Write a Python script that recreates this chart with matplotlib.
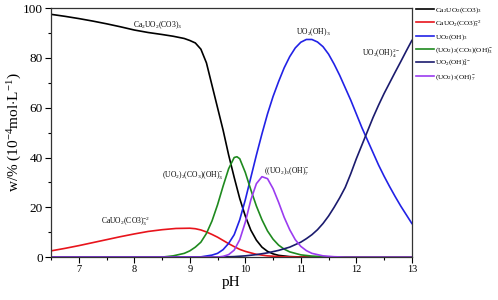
import numpy as np
import matplotlib
matplotlib.use("Agg")
import matplotlib.pyplot as plt
from matplotlib.ticker import MultipleLocator

plt.rcParams['font.family'] = ['Liberation Serif', 'DejaVu Serif']
plt.rcParams['mathtext.fontset'] = 'custom'
plt.rcParams['mathtext.rm'] = 'Liberation Serif'
plt.rcParams['mathtext.it'] = 'Liberation Serif:italic'
plt.rcParams['mathtext.bf'] = 'Liberation Serif:bold'

# Data: pH vs share (%)
ph_ca2 = [6.5, 6.75, 7.0, 7.25, 7.5, 7.75, 8.0, 8.25, 8.5, 8.7, 8.9, 9.0, 9.1, 9.2, 9.3,
          9.4, 9.5, 9.6, 9.7, 9.8, 9.9, 10.0, 10.1, 10.2, 10.3, 10.4, 10.5, 10.6, 10.8,
          11.0, 11.5, 13.0]
w_ca2 = [97.5, 96.7, 95.8, 94.8, 93.7, 92.5, 91.2, 90.2, 89.4, 88.7, 87.8, 87.0, 86.0, 83.5,
         78.0, 69.0, 60.0, 51.0, 41.0, 32.0, 23.5, 16.5, 10.8, 6.8, 4.0, 2.3, 1.3, 0.7, 0.2,
         0.05, 0.0, 0.0]

ph_ca1 = [6.5, 6.75, 7.0, 7.25, 7.5, 7.75, 8.0, 8.25, 8.5, 8.75, 9.0, 9.1, 9.2, 9.3, 9.4,
          9.5, 9.6, 9.7, 9.8, 9.9, 10.0, 10.2, 10.4, 10.6, 10.8, 11.0, 13.0]
w_ca1 = [2.5, 3.5, 4.6, 5.8, 7.0, 8.2, 9.3, 10.3, 11.0, 11.5, 11.6, 11.4, 10.9, 10.1, 9.1,
         8.0, 6.7, 5.4, 4.2, 3.1, 2.3, 1.1, 0.5, 0.2, 0.05, 0.0, 0.0]

ph_oh3 = [6.5, 9.2, 9.4, 9.5, 9.6, 9.7, 9.8, 9.9, 10.0, 10.1, 10.2, 10.3, 10.4, 10.5, 10.6,
          10.7, 10.8, 10.9, 11.0, 11.1, 11.2, 11.3, 11.4, 11.5, 11.6, 11.7, 11.8, 11.9,
          12.0, 12.1, 12.2, 12.3, 12.4, 12.5, 12.6, 12.7, 12.8, 12.9, 13.0]
w_oh3 = [0.0, 0.1, 0.8, 1.5, 3.0, 5.5, 9.0, 15.0, 23.0, 32.0, 41.0, 49.5, 57.5, 64.5, 70.5,
         76.0, 80.5, 84.0, 86.3, 87.4, 87.4, 86.4, 84.5, 81.5, 77.5, 73.0, 68.0, 63.0,
         57.5, 52.0, 47.0, 42.0, 37.0, 32.5, 28.3, 24.3, 20.5, 17.0, 13.5]

ph_co3 = [6.5, 8.5, 8.7, 8.9, 9.0, 9.1, 9.2, 9.3, 9.4, 9.5, 9.6, 9.7, 9.8, 9.85, 9.9, 10.0,
          10.1, 10.2, 10.3, 10.4, 10.5, 10.6, 10.7, 10.8, 11.0, 11.2, 11.5, 11.8, 13.0]
w_co3 = [0.0, 0.0, 0.5, 1.5, 2.5, 4.0, 6.0, 9.5, 14.5, 21.0, 28.5, 35.5, 40.0, 40.3, 39.5,
         34.0, 27.0, 20.5, 15.0, 10.5, 7.2, 4.8, 3.2, 2.1, 0.9, 0.4, 0.1, 0.0, 0.0]

ph_oh4 = [6.5, 9.5, 9.8, 10.0, 10.2, 10.4, 10.6, 10.8, 11.0, 11.1, 11.2, 11.3, 11.4, 11.5,
          11.6, 11.7, 11.8, 11.9, 12.0, 12.1, 12.2, 12.3, 12.4, 12.5, 12.6, 12.7, 12.8,
          12.9, 13.0]
w_oh4 = [0.0, 0.0, 0.2, 0.5, 1.0, 1.7, 2.7, 4.0, 6.0, 7.4, 9.0, 11.0, 13.5, 16.5, 20.0,
         23.8, 28.0, 33.5, 39.5, 45.0, 50.5, 56.0, 61.0, 65.7, 70.0, 74.3, 78.5, 82.8,
         87.0]

ph_oh7 = [6.5, 9.5, 9.6, 9.7, 9.8, 9.9, 10.0, 10.1, 10.2, 10.3, 10.4, 10.5, 10.6, 10.7,
          10.8, 10.9, 11.0, 11.1, 11.2, 11.4, 11.6, 11.8, 13.0]
w_oh7 = [0.0, 0.0, 0.3, 1.0, 2.8, 7.0, 14.0, 23.0, 29.5, 32.3, 31.5, 27.5, 22.0, 16.0,
         11.0, 7.0, 4.3, 2.6, 1.5, 0.5, 0.15, 0.0, 0.0]

legend_labels = [r"Ca$_2$UO$_2$(CO3)$_3$", r"CaUO$_2$(CO3)$_3^{-2}$", r"UO$_2$(OH)$_3$",
                 r"(UO$_2$)$_2$(CO$_3$)(OH)$_3^{-}$", r"UO$_2$(OH)$_4^{2-}$",
                 r"(UO$_2$)$_3$(OH)$_7^{-}$"]
colors = ["#000000", "#e8141c", "#2222e6", "#1f8a1f", "#1b1b6e", "#9b3cf0"]

series = [(ph_ca2, w_ca2), (ph_ca1, w_ca1), (ph_oh3, w_oh3),
          (ph_co3, w_co3), (ph_oh4, w_oh4), (ph_oh7, w_oh7)]

fig = plt.figure(figsize=(4.98, 3.0), dpi=100)
ax = fig.add_axes([0.1024, 0.143, 0.7246, 0.830])

for (x, y), lab, c in zip(series, legend_labels, colors):
    ax.plot(x, y, color=c, lw=1.2, label=lab)

# curve annotations
fs = 5.5
ax.text(8.43, 93, r"Ca$_2$UO$_2$(CO3)$_3$", fontsize=fs, ha="center", va="center")
ax.text(7.85, 14.2, r"CaUO$_2$(CO3)$_3^{-2}$", fontsize=fs, ha="center", va="center")
ax.text(9.06, 33, r"(UO$_2$)$_2$(CO$_3$)(OH)$_3^{-}$", fontsize=fs, ha="center", va="center")
ax.text(10.75, 34.5, r"((UO$_2$)$_3$(OH)$_7^{-}$", fontsize=fs, ha="center", va="center")
ax.text(11.22, 90.5, r"UO$_2$(OH)$_3$", fontsize=fs, ha="center", va="center")
ax.text(12.45, 82, r"UO$_2$(OH)$_4^{2-}$", fontsize=fs, ha="center", va="center")

ax.set_xlim(6.5, 13)
ax.set_ylim(0, 100)
ax.xaxis.set_major_locator(MultipleLocator(1))
ax.xaxis.set_minor_locator(MultipleLocator(0.5))
ax.yaxis.set_major_locator(MultipleLocator(20))
ax.yaxis.set_minor_locator(MultipleLocator(10))
ax.tick_params(axis="both", which="major", direction="out", length=4, width=0.8)
ax.tick_params(axis="both", which="minor", direction="out", length=2.5, width=0.8)
ax.tick_params(axis="x", labelsize=7.5, pad=2)
ax.tick_params(axis="y", labelsize=9.5, pad=2)
for s in ax.spines.values():
    s.set_linewidth(0.9)
    s.set_color("#333333")

ax.set_xlabel("pH", fontsize=11, labelpad=1)
ax.set_ylabel(r"w/% (10$^{-4}$mol$\cdot$L$^{-1}$)", fontsize=11, labelpad=-1)

ax.legend(loc="upper left", bbox_to_anchor=(414 / 498, 297 / 300), bbox_transform=fig.transFigure,
          frameon=False, fontsize=5.2, handlelength=2.4, handletextpad=0.2,
          labelspacing=0.45, borderaxespad=0, borderpad=0.3)

fig.savefig("out.png", dpi=100)
